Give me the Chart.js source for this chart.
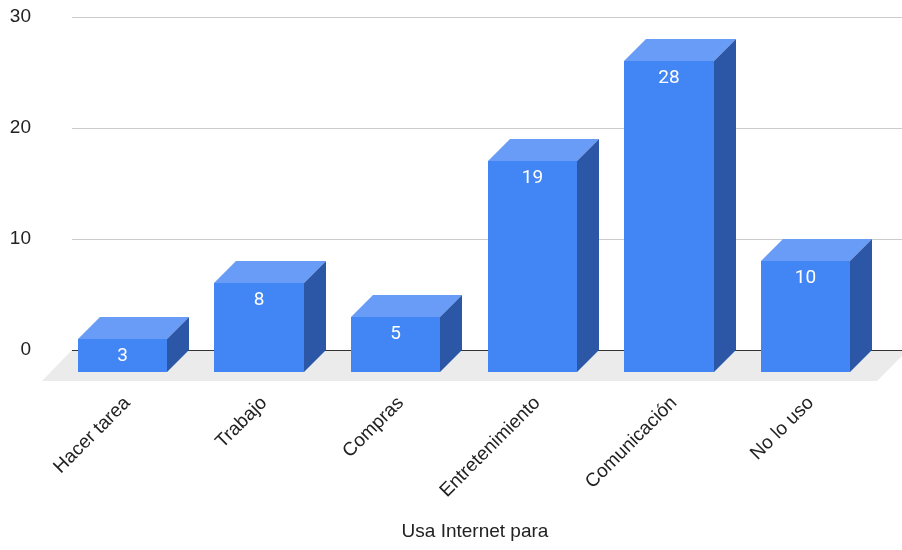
<!DOCTYPE html>
<html>
<head>
<meta charset="utf-8">
<script src="https://cdn.jsdelivr.net/npm/chart.js@4.4.0/dist/chart.umd.min.js"></script>
<style>
  html, body { margin: 0; padding: 0; background: #fff; }
</style>
</head>
<body>
<canvas id="usoChart" width="902" height="550"></canvas>
<script>
const categorias = ['Hacer tarea', 'Trabajo', 'Compras', 'Entretenimiento', 'Comunicación', 'No lo uso'];
const respuestas = [3, 8, 5, 19, 28, 10];
const marcasY = [0, 10, 20, 30];

const PROF = 22;          // depth of each box (px, 45 degrees)
const FRENTE = '#4285f4';
const TAPA = '#699cf6';
const LADO = '#2b57a6';

// floor, grid and the 3D boxes are painted by hand from the scales
const cajas3d = {
  id: 'cajas3d',
  afterDatasetsDraw(chart) {
    const { ctx, chartArea, scales: { y } } = chart;
    const izq = chartArea.left - 4;
    const der = chartArea.right + 6;
    const y0 = Math.round(y.getPixelForValue(0));

    ctx.save();
    // floor
    ctx.fillStyle = '#ebebeb';
    ctx.beginPath();
    ctx.moveTo(izq, y0);
    ctx.lineTo(der + 6, y0);
    ctx.lineTo(der + 6 - 31, y0 + 31);
    ctx.lineTo(izq - 30, y0 + 31);
    ctx.closePath();
    ctx.fill();

    // horizontal grid
    ctx.lineWidth = 1;
    marcasY.forEach(v => {
      const py = Math.round(y.getPixelForValue(v)) + 0.5;
      ctx.strokeStyle = v === 0 ? '#333333' : '#cccccc';
      ctx.beginPath();
      ctx.moveTo(izq, py);
      ctx.lineTo(der, py);
      ctx.stroke();
    });

    // boxes
    const meta = chart.getDatasetMeta(0);
    meta.data.forEach((bar, i) => {
      const w = bar.width;
      const l = Math.round(bar.x - w / 2 - PROF);
      const r = Math.round(bar.x + w / 2 - PROF);
      const t = Math.round(bar.y + PROF);
      const b = Math.round(bar.base + PROF);

      ctx.fillStyle = FRENTE;
      ctx.fillRect(l, t, r - l, b - t);

      ctx.fillStyle = TAPA;
      ctx.beginPath();
      ctx.moveTo(l, t);
      ctx.lineTo(l + PROF, t - PROF);
      ctx.lineTo(r + PROF, t - PROF);
      ctx.lineTo(r, t);
      ctx.closePath();
      ctx.fill();

      ctx.fillStyle = LADO;
      ctx.beginPath();
      ctx.moveTo(r, t);
      ctx.lineTo(r + PROF, t - PROF);
      ctx.lineTo(r + PROF, b - PROF);
      ctx.lineTo(r, b);
      ctx.closePath();
      ctx.fill();

      ctx.fillStyle = '#ffffff';
      ctx.font = '19px Roboto';
      ctx.textAlign = 'center';
      ctx.textBaseline = 'middle';
      ctx.fillText(String(respuestas[i]), (l + r) / 2, t + 17);
    });

    // axis title, centred under the front row of boxes
    ctx.fillStyle = '#222222';
    ctx.font = '19px "Liberation Sans"';
    ctx.textAlign = 'center';
    ctx.textBaseline = 'middle';
    ctx.fillText('Usa Internet para', (chartArea.left + chartArea.right) / 2 - 11, 532);
    ctx.restore();
  }
};

new Chart(document.getElementById('usoChart').getContext('2d'), {
  type: 'bar',
  data: {
    labels: categorias,
    datasets: [{
      label: 'Usa Internet para',
      data: respuestas,
      backgroundColor: 'rgba(0,0,0,0)',
      categoryPercentage: 1,
      barPercentage: 0.652
    }]
  },
  options: {
    responsive: false,
    animation: false,
    events: [],
    layout: { padding: { top: 17, right: 6, left: 0, bottom: 0 } },
    plugins: {
      legend: { display: false },
      tooltip: { enabled: false }
    },
    scales: {
      x: {
        grid: { display: false, drawTicks: false },
        border: { display: false },
        ticks: {
          autoSkip: false,
          minRotation: 45,
          maxRotation: 45,
          padding: 42,
          labelOffset: -17,
          color: '#222222',
          font: { family: 'Liberation Sans', size: 19 }
        },
        afterFit(scale) { scale.height = 200; }
      },
      y: {
        min: 0,
        max: 30,
        // invisible tick marks only push the labels away from the grid
        grid: { display: false, drawTicks: true, tickLength: 45 },
        border: { display: false },
        afterBuildTicks(scale) { scale.ticks = marcasY.map(v => ({ value: v })); },
        ticks: {
          padding: 0,
          color: '#222222',
          font: { family: 'Liberation Sans', size: 19 }
        },
        afterFit(scale) { scale.width = 76; }
      }
    }
  },
  plugins: [cajas3d]
});
</script>
</body>
</html>
